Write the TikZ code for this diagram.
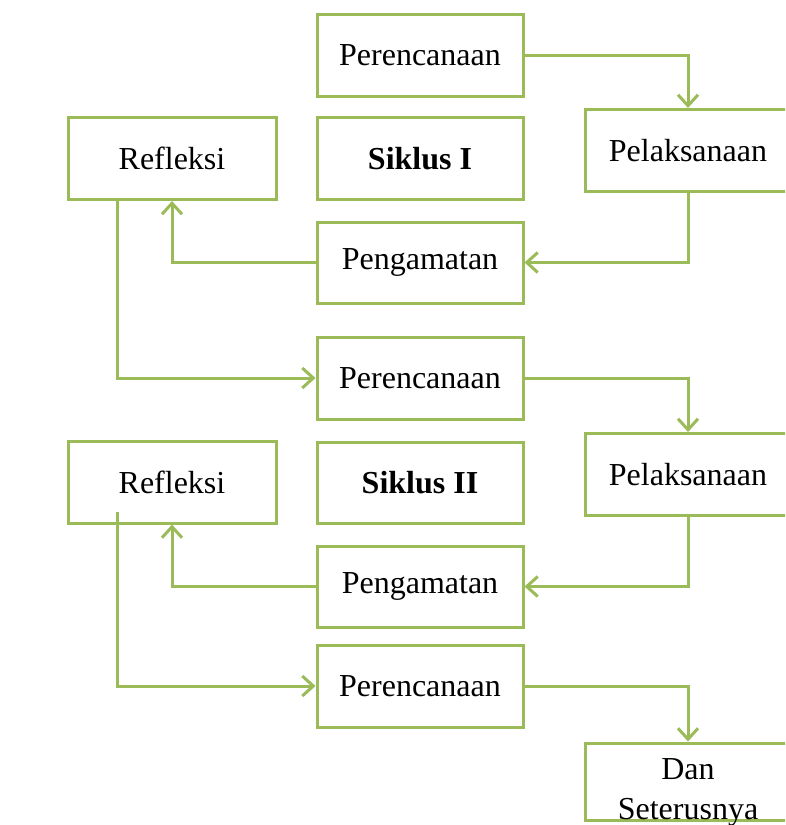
\documentclass[tikz,border=0pt]{standalone}
\usepackage{fontspec}
\setmainfont{Liberation Serif}
\usetikzlibrary{arrows.meta}
\definecolor{boxgreen}{RGB}{155,187,89}
\tikzset{
  box/.style={draw=boxgreen, line width=3pt, fill=white, minimum height=82pt, inner sep=0pt,
    font=\fontsize{32}{40}\selectfont, text=black},
  midbox/.style={box, minimum width=206pt},
  leftbox/.style={box, minimum width=208pt},
  rightbox/.style={box, minimum width=206pt},
  conn/.style={draw=boxgreen, line width=3pt, -{Straight Barb[length=11pt,width=20pt,line width=3pt]}}
}
\begin{document}
\begin{tikzpicture}[x=1pt,y=-1pt]
\useasboundingbox (0,0) rectangle (785,825);
\fill[white] (0,0) rectangle (785,825);
\begin{scope}
\clip (0,0) rectangle (785,825);
\node[midbox] (per1) at (420,55) {Perencanaan};
\node[midbox, font=\fontsize{32}{40}\selectfont\bfseries] (sik1) at (420,158.5) {Siklus I};
\node[leftbox] (ref1) at (172,158.5) {Refleksi};
\node[rightbox] (pel1) at (688,150.5) {Pelaksanaan};
\node[midbox, minimum height=81pt] (pen1) at (420,262.5) {Pengamatan};
\node[midbox] (per2) at (420,378) {Perencanaan};
\node[leftbox] (ref2) at (172,482) {Refleksi};
\node[midbox, minimum height=81pt, font=\fontsize{32}{40}\selectfont\bfseries] (sik2) at (420,482.5) {Siklus II};
\node[rightbox] (pel2) at (688,474.5) {Pelaksanaan};
\node[midbox, minimum height=81pt] (pen2) at (420,586.5) {Pengamatan};
\node[midbox] (per3) at (420,686) {Perencanaan};
\node[rightbox, minimum height=77pt, text height=76pt, text depth=1pt, align=center] (dan) at (688,781.5) {Dan\\Seterusnya};

\draw[conn] (per1.east) -| (pel1.north);
\draw[conn] (pel1.south) |- (pen1.east);
\draw[conn] (pen1.west) -| (ref1.south);
\draw[conn] ([xshift=51pt]ref1.south west) |- (per2.west);
\draw[conn] (per2.east) -| (pel2.north);
\draw[conn] (pel2.south) |- (pen2.east);
\draw[conn] (pen2.west) -| (ref2.south);
\draw[conn] ([xshift=51pt,yshift=13pt]ref2.south west) |- (per3.west);
\draw[conn] (per3.east) -| (dan.north);
\end{scope}
\end{tikzpicture}
\end{document}
